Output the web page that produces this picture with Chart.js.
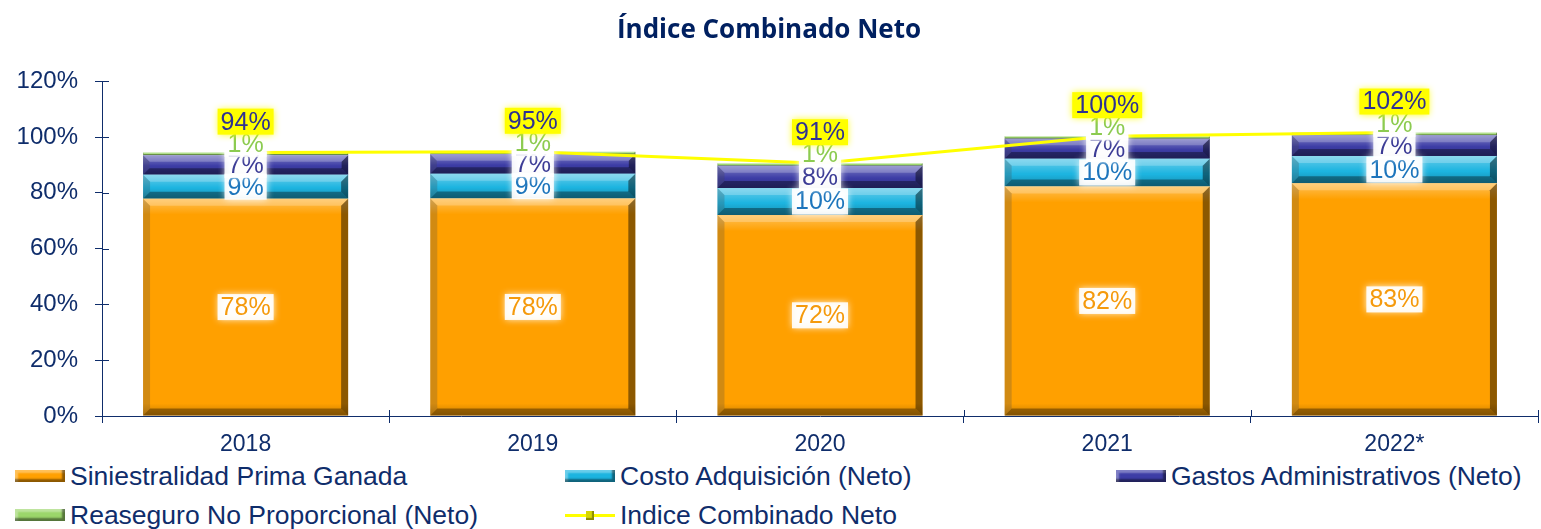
<!doctype html>
<html lang="es">
<head>
<meta charset="utf-8">
<meta name="viewport" content="width=device-width, initial-scale=1">
<title>Índice Combinado Neto</title>
<script src="https://cdn.jsdelivr.net/npm/chart.js"></script>
<style>
  body { margin: 0; background: #fff; font-family: "Liberation Sans", Arial, sans-serif; }
  .wrap { position: relative; width: 1541px; height: 529px; overflow: hidden; }
  .chart-box { position: absolute; left: 0; top: 0; width: 1541px; height: 460px; }
  .legend-item { position: absolute; height: 28px; display: flex; align-items: center;
                 font-size: 26.5px; color: #0F2D6B; white-space: nowrap; }
  .swatch { width: 50px; height: 12px; margin-right: 5px;
            box-shadow: inset -3px -3px 2px rgba(0,0,0,.45), inset 3px 3px 2px rgba(255,255,255,.35); }
  .line-swatch { position: relative; width: 50px; height: 12px; margin-right: 5px; }
  .line-swatch::before { content: ""; position: absolute; left: 0; right: 0; top: 5px; height: 3px; background: #FFFF00; }
  .line-swatch::after { content: ""; position: absolute; left: 21px; top: 2px; width: 8px; height: 9px;
                        background: #D6D600; box-shadow: inset -2px -2px 1px rgba(0,0,0,.35); }
</style>
</head>
<body>
<div class="wrap">
  <div class="chart-box"><canvas id="indiceChart"></canvas></div>
  <div id="legend"></div>
</div>

<script>
  // Años y componentes del índice combinado (en %)
  const years = ['2018', '2019', '2020', '2021', '2022*'];
  const siniestralidad = [77.9, 78.0, 72.0, 82.3, 83.4];
  const costoAdquisicion = [8.6, 8.8, 9.7, 9.9, 9.8];
  const gastosAdministrativos = [7.0, 7.0, 8.0, 7.2, 7.4];
  const reaseguroNoProp = [0.9, 0.9, 0.9, 0.9, 1.0];
  const indiceCombinado = [94.4, 94.7, 90.6, 100.3, 101.6];
  const yTicks = [0, 20, 40, 60, 80, 100, 120];

  const navy = '#0F2D6B';
  const labelFont = '25px "Liberation Sans", Arial, sans-serif';

  function poly(ctx, pts, fill) {
    ctx.beginPath();
    ctx.moveTo(pts[0][0], pts[0][1]);
    for (let i = 1; i < pts.length; i++) ctx.lineTo(pts[i][0], pts[i][1]);
    ctx.closePath();
    ctx.fillStyle = fill;
    ctx.fill();
  }

  // bisel estilo Excel sobre cada segmento
  function drawBevel(ctx, x0, y0, x1, y1) {
    const h = y1 - y0;
    if (h <= 0) return;
    const b = Math.min(7, h / 3);
    ctx.save();
    const sh = Math.min(h * 0.55, 16);
    let g = ctx.createLinearGradient(0, y0, 0, y0 + sh);
    g.addColorStop(0, 'rgba(255,255,255,0.35)');
    g.addColorStop(1, 'rgba(255,255,255,0)');
    ctx.fillStyle = g;
    ctx.fillRect(x0, y0, x1 - x0, sh);
    const ds = Math.min(h * 0.45, 12);
    g = ctx.createLinearGradient(0, y1 - ds, 0, y1);
    g.addColorStop(0, 'rgba(0,0,0,0)');
    g.addColorStop(1, 'rgba(0,0,0,0.22)');
    ctx.fillStyle = g;
    ctx.fillRect(x0, y1 - ds, x1 - x0, ds);
    poly(ctx, [[x0, y0], [x1, y0], [x1 - b, y0 + b], [x0 + b, y0 + b]], 'rgba(255,255,255,0.22)');
    poly(ctx, [[x1, y0], [x1, y1], [x1 - b, y1 - b], [x1 - b, y0 + b]], 'rgba(0,0,0,0.45)');
    poly(ctx, [[x0, y1], [x1, y1], [x1 - b, y1 - b], [x0 + b, y1 - b]], 'rgba(0,0,0,0.35)');
    poly(ctx, [[x0, y0], [x0 + b, y0 + b], [x0 + b, y1 - b], [x0, y1]], 'rgba(70,70,70,0.25)');
    ctx.restore();
  }

  const bevelPlugin = {
    id: 'bevel',
    afterDatasetDraw(chart, args) {
      const ds = chart.data.datasets[args.index];
      if (ds.type === 'line') return;
      const ctx = chart.ctx;
      args.meta.data.forEach(bar => {
        const x0 = bar.x - bar.width / 2, x1 = bar.x + bar.width / 2;
        drawBevel(ctx, x0, Math.min(bar.y, bar.base), x1, Math.max(bar.y, bar.base));
      });
    }
  };

  function drawTag(ctx, text, x, y, tag) {
    ctx.save();
    ctx.font = labelFont;
    const w = ctx.measureText(text).width;
    ctx.shadowColor = tag.glow;
    ctx.shadowBlur = 7;
    ctx.fillStyle = tag.box;
    ctx.fillRect(x - w / 2 - 3, y - 13, w + 6, 26);
    ctx.shadowBlur = 0;
    ctx.fillStyle = tag.color;
    ctx.textAlign = 'center';
    ctx.textBaseline = 'middle';
    ctx.fillText(text, x, y + 1);
    ctx.restore();
  }

  // etiquetas de valor centradas en cada segmento y sobre la línea
  const labelPlugin = {
    id: 'segLabels',
    afterDatasetsDraw(chart) {
      const ctx = chart.ctx;
      chart.data.datasets.forEach((ds, i) => {
        const meta = chart.getDatasetMeta(i);
        meta.data.forEach((el, j) => {
          const text = Math.round(ds.data[j]) + '%';
          const y = ds.type === 'line' ? el.y - 31 : (el.y + el.base) / 2 + (ds.labelShift || 0);
          drawTag(ctx, text, el.x, y, ds.tag);
        });
      });
    }
  };

  // marcas de eje que cruzan la línea del eje
  const tickCross = {
    id: 'tickCross',
    afterDraw(chart) {
      const ctx = chart.ctx, ys = chart.scales.y, xs = chart.scales.x;
      ctx.save();
      ctx.strokeStyle = navy;
      ctx.lineWidth = 1;
      ctx.beginPath();
      ys.ticks.forEach((t, i) => {
        const py = Math.round(ys.getPixelForTick(i)) + 0.5;
        ctx.moveTo(ys.right, py);
        ctx.lineTo(ys.right + 7, py);
      });
      const n = years.length;
      for (let i = 0; i <= n; i++) {
        const px = Math.round(xs.left + i * xs.width / n) + 0.5;
        ctx.moveTo(px, xs.top - 6);
        ctx.lineTo(px, xs.top);
      }
      ctx.stroke();
      ctx.restore();
    }
  };

  const series = [
    { label: 'Siniestralidad Prima Ganada', data: siniestralidad, color: '#FFA000',
      tag: { color: '#F59A0C', box: 'rgba(255,255,255,0.9)', glow: '#fff' } },
    { label: 'Costo Adquisición (Neto)', data: costoAdquisicion, color: '#1CB4E0',
      tag: { color: '#1C75BC', box: 'rgba(255,255,255,0.9)', glow: '#fff' } },
    { label: 'Gastos Administrativos (Neto)', data: gastosAdministrativos, color: '#3D3DA6',
      tag: { color: '#3B3B95', box: 'rgba(255,255,255,0.9)', glow: '#fff' } },
    { label: 'Reaseguro No Proporcional (Neto)', data: reaseguroNoProp, color: '#9BD66A', shift: -10,
      tag: { color: '#8CCB50', box: 'rgba(255,255,255,0.85)', glow: '#fff' } }
  ];

  const datasets = series.map(s => ({
    type: 'bar',
    label: s.label,
    data: s.data,
    backgroundColor: s.color,
    borderWidth: 0,
    stack: 'componentes',
    order: 1,
    labelShift: s.shift || 0,
    tag: s.tag
  }));

  datasets.push({
    type: 'line',
    label: 'Indice Combinado Neto',
    data: indiceCombinado,
    borderColor: '#FFFF00',
    backgroundColor: '#FFFF00',
    borderWidth: 3,
    pointRadius: 0,
    tension: 0,
    stack: 'total',
    order: 0,
    tag: { color: '#2E3192', box: '#FFFF00', glow: 'rgba(255,255,0,0.95)' }
  });

  new Chart(document.getElementById('indiceChart'), {
    data: { labels: years, datasets: datasets },
    options: {
      responsive: true,
      maintainAspectRatio: false,
      animation: false,
      layout: { padding: { top: 9, right: 3, left: 0, bottom: 0 } },
      datasets: { bar: { categoryPercentage: 1, barPercentage: 0.714 } },
      plugins: {
        legend: { display: false },
        tooltip: { enabled: false },
        title: {
          display: true,
          text: 'Índice Combinado Neto',
          color: '#002060',
          font: { family: '"Open Sans", sans-serif', size: 26, weight: 'bold', lineHeight: 1.2 },
          padding: { top: 6, bottom: 35 }
        }
      },
      scales: {
        x: {
          stacked: true,
          grid: { offset: true, drawOnChartArea: false, color: navy, tickLength: 7 },
          border: { color: navy },
          ticks: { color: navy, padding: 8, font: { family: '"Liberation Sans", Arial', size: 23 } },
          afterFit: s => { s.height = 44; }
        },
        y: {
          stacked: true,
          min: 0,
          max: 120,
          afterBuildTicks: s => { s.ticks = yTicks.map(v => ({ value: v })); },
          grid: { drawOnChartArea: false, color: navy, tickLength: 7 },
          border: { color: navy },
          ticks: { color: navy, padding: 17, font: { family: '"Liberation Sans", Arial', size: 24 },
                   callback: v => v + '%' },
          afterFit: s => { s.width = 102; }
        }
      }
    },
    plugins: [bevelPlugin, labelPlugin, tickCross]
  });

  // leyenda en rejilla de tres columnas
  const legendPos = [[15, 462], [565, 462], [1116, 462], [15, 501], [565, 501]];
  const legendEl = document.getElementById('legend');
  const legendItems = series.map(s => ({ label: s.label, color: s.color }));
  legendItems.push({ label: 'Indice Combinado Neto', line: true });
  legendItems.forEach((it, i) => {
    const div = document.createElement('div');
    div.className = 'legend-item';
    div.style.left = legendPos[i][0] + 'px';
    div.style.top = legendPos[i][1] + 'px';
    const sw = document.createElement('span');
    if (it.line) {
      sw.className = 'line-swatch';
    } else {
      sw.className = 'swatch';
      sw.style.background = it.color;
    }
    div.appendChild(sw);
    div.appendChild(document.createTextNode(it.label));
    legendEl.appendChild(div);
  });
</script>
</body>
</html>
